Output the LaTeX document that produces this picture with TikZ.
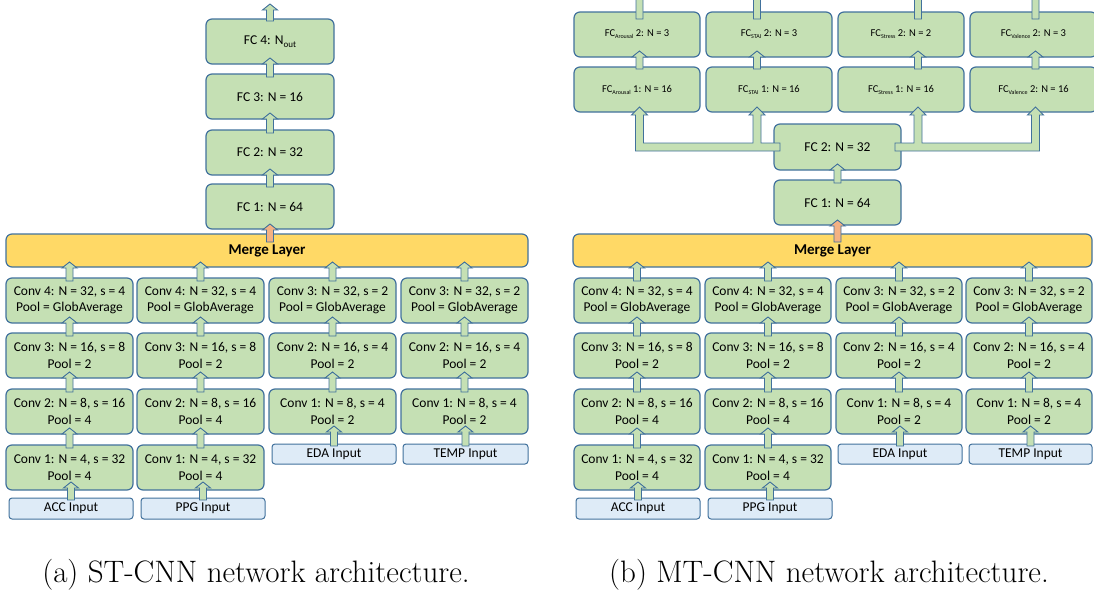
\documentclass[tikz,border=0pt]{standalone}
\usepackage{fontspec}
\newfontfamily\cfont{Carlito}
\usetikzlibrary{calc}
\definecolor{gfill}{HTML}{C5E0B4}
\definecolor{bline}{HTML}{41719C}
\definecolor{mfill}{HTML}{FFD966}
\definecolor{ifill}{HTML}{DEEBF7}
\definecolor{ofill}{HTML}{F4B183}
\newcommand\bx[7]{%
 \pgfmathsetmacro\bxcx{(#3+#5)/2}%
 \pgfmathsetmacro\bxcy{(#4+#6)/2}%
 \pgfmathsetmacro\bxw{#5-#3}%
 \pgfmathsetmacro\bxh{#6-#4}%
 \node[#1, minimum width=\bxw pt, minimum height=\bxh pt] (#2) at (\bxcx,\bxcy) {#7};}
\def\ahs{3.5pt}\def\ahh{7.5pt}\def\ahl{6pt}
\newcommand\uarr[3][arr]{\path[#1] let \p1=#2, \p2=#3 in (\x1-\ahs,\y1) -- (\x1-\ahs,\y2-\ahl) -- (\x1-\ahh,\y2-\ahl) -- (\x1,\y2) -- (\x1+\ahh,\y2-\ahl) -- (\x1+\ahs,\y2-\ahl) -- (\x1+\ahs,\y1) -- cycle;}
\newcommand\up[4]{\uarr{($(#1.north)+(0,#3)$)}{($(#2.south)+(0,-#4)$)}}
\newcommand\fsub[1]{\raisebox{-2pt}{\fontsize{6}{6}\selectfont #1}}
\begin{document}
\begin{tikzpicture}[x=1pt,y=-1pt,
 layer/.style={draw=bline, fill=gfill, line width=1.2pt, rounded corners=6pt, inner sep=0pt, outer sep=0pt, text=black, font=\cfont\fontsize{13.5}{16.5}\selectfont, align=center},
 small/.style={layer, font=\cfont\fontsize{10.5}{12}\selectfont},
 merge/.style={layer, fill=mfill, font=\cfont\bfseries\fontsize{15}{18}\selectfont},
 inp/.style={layer, fill=ifill, rounded corners=3pt, line width=1pt},
 arr/.style={draw=bline, fill=gfill, line width=0.9pt, line join=miter},
 oarr/.style={arr, fill=ofill},
 captxt/.style={font=\fontsize{31}{36}\selectfont, anchor=base, inner sep=0pt}]
\useasboundingbox (0,0) rectangle (1094,597);
\clip (0,0) rectangle (1094,597);
% ================= (a) ST-CNN =================
\bx{layer}{a4}{206}{19}{334}{64}{FC 4: N\raisebox{-2.5pt}{\fontsize{9}{9}\selectfont out}}
\bx{layer}{a3}{206}{74}{334}{119}{FC 3: N = 16}
\bx{layer}{a2}{206}{130}{334}{175}{FC 2: N = 32}
\bx{layer}{a1}{206}{184}{334}{229}{FC 1: N = 64}
\bx{merge}{am}{6}{234}{528}{267}{Merge Layer}
% ACC
\bx{layer}{ac4}{6}{278}{133}{323}{Conv 4: N = 32, s = 4\\Pool = GlobAverage}
\bx{layer}{ac3}{6}{333}{133}{378}{Conv 3: N = 16, s = 8\\Pool = 2}
\bx{layer}{ac2}{6}{389}{133}{434}{Conv 2: N = 8, s = 16\\Pool = 4}
\bx{layer}{ac1}{6}{445}{133}{490}{Conv 1: N = 4, s = 32\\Pool = 4}
\bx{inp}{ain}{9}{498}{133}{519}{ACC Input}
% PPG
\bx{layer}{ap4}{137}{278}{264}{323}{Conv 4: N = 32, s = 4\\Pool = GlobAverage}
\bx{layer}{ap3}{137}{333}{264}{378}{Conv 3: N = 16, s = 8\\Pool = 2}
\bx{layer}{ap2}{137}{389}{264}{434}{Conv 2: N = 8, s = 16\\Pool = 4}
\bx{layer}{ap1}{137}{445}{264}{490}{Conv 1: N = 4, s = 32\\Pool = 4}
\bx{inp}{apin}{141}{498}{265}{519}{PPG Input}
% EDA
\bx{layer}{ae3}{269}{278}{396}{323}{Conv 3: N = 32, s = 2\\Pool = GlobAverage}
\bx{layer}{ae2}{269}{333}{396}{378}{Conv 2: N = 16, s = 4\\Pool = 2}
\bx{layer}{ae1}{269}{389}{396}{434}{Conv 1: N = 8, s = 4\\Pool = 2}
\bx{inp}{aein}{272}{444}{396}{464}{EDA Input}
% TEMP
\bx{layer}{at3}{401}{278}{528}{323}{Conv 3: N = 32, s = 2\\Pool = GlobAverage}
\bx{layer}{at2}{401}{333}{528}{378}{Conv 2: N = 16, s = 4\\Pool = 2}
\bx{layer}{at1}{401}{389}{528}{434}{Conv 1: N = 8, s = 4\\Pool = 2}
\bx{inp}{atin}{403}{444}{528}{464}{TEMP Input}
% arrows (a)
\coordinate (atop) at ($(a4.north)+(0,-15)$);
\uarr{($(a4.north)+(0,2)$)}{(atop)}
\up{a3}{a4}{3}{6}
\up{a2}{a3}{3}{6}
\up{a1}{a2}{3}{6}
\uarr[oarr]{($(am.north -| a1.south)+(0,8)$)}{($(a1.south)+(0,-5)$)}
\up{ain}{ac1}{2}{8}\up{ac1}{ac2}{3}{6}\up{ac2}{ac3}{3}{6}\up{ac3}{ac4}{3}{6}\up{ac4}{am}{3}{5}
\up{apin}{ap1}{2}{8}\up{ap1}{ap2}{3}{6}\up{ap2}{ap3}{3}{6}\up{ap3}{ap4}{3}{6}\up{ap4}{am}{3}{5}
\up{aein}{ae1}{2}{8}\up{ae1}{ae2}{3}{6}\up{ae2}{ae3}{3}{6}\up{ae3}{am}{3}{5}
\up{atin}{at1}{2}{8}\up{at1}{at2}{3}{6}\up{at2}{at3}{3}{6}\up{at3}{am}{3}{5}
% ================= (b) MT-CNN =================
\bx{small}{g1}{574}{12}{700}{57}{FC\fsub{Arousal} 2: N = 3}
\bx{small}{g2}{706}{12}{832}{57}{FC\fsub{STAI} 2: N = 3}
\bx{small}{g3}{838}{12}{964}{57}{FC\fsub{Stress} 2: N = 2}
\bx{small}{g4}{970}{12}{1097}{57}{FC\fsub{Valence} 2: N = 3}
\bx{small}{h1}{574}{67}{700}{112}{FC\fsub{Arousal} 1: N = 16}
\bx{small}{h2}{706}{67}{832}{112}{FC\fsub{STAI} 1: N = 16}
\bx{small}{h3}{838}{67}{964}{112}{FC\fsub{Stress} 1: N = 16}
\bx{small}{h4}{970}{67}{1097}{112}{FC\fsub{Valence} 2: N = 16}
\bx{layer}{b2}{774}{124}{901}{170}{FC 2: N = 32}
\bx{layer}{b1}{774}{180}{901}{225}{FC 1: N = 64}
\bx{merge}{bm}{573}{234}{1092}{267}{Merge Layer}
% ACC
\bx{layer}{bc4}{574}{278}{700}{323}{Conv 4: N = 32, s = 4\\Pool = GlobAverage}
\bx{layer}{bc3}{574}{333}{700}{378}{Conv 3: N = 16, s = 8\\Pool = 2}
\bx{layer}{bc2}{574}{389}{700}{434}{Conv 2: N = 8, s = 16\\Pool = 4}
\bx{layer}{bc1}{574}{445}{700}{490}{Conv 1: N = 4, s = 32\\Pool = 4}
\bx{inp}{bin}{576}{498}{700}{519}{ACC Input}
% PPG
\bx{layer}{bp4}{705}{278}{831}{323}{Conv 4: N = 32, s = 4\\Pool = GlobAverage}
\bx{layer}{bp3}{705}{333}{831}{378}{Conv 3: N = 16, s = 8\\Pool = 2}
\bx{layer}{bp2}{705}{389}{831}{434}{Conv 2: N = 8, s = 16\\Pool = 4}
\bx{layer}{bp1}{705}{445}{831}{490}{Conv 1: N = 4, s = 32\\Pool = 4}
\bx{inp}{bpin}{708}{498}{832}{519}{PPG Input}
% EDA
\bx{layer}{be3}{836}{278}{962}{323}{Conv 3: N = 32, s = 2\\Pool = GlobAverage}
\bx{layer}{be2}{836}{333}{962}{378}{Conv 2: N = 16, s = 4\\Pool = 2}
\bx{layer}{be1}{836}{389}{962}{434}{Conv 1: N = 8, s = 4\\Pool = 2}
\bx{inp}{bein}{838}{444}{962}{464}{EDA Input}
% TEMP
\bx{layer}{bt3}{966}{278}{1092}{323}{Conv 3: N = 32, s = 2\\Pool = GlobAverage}
\bx{layer}{bt2}{966}{333}{1092}{378}{Conv 2: N = 16, s = 4\\Pool = 2}
\bx{layer}{bt1}{966}{389}{1092}{434}{Conv 1: N = 8, s = 4\\Pool = 2}
\bx{inp}{btin}{969}{444}{1092}{464}{TEMP Input}
% arrows (b)
\up{bin}{bc1}{2}{8}\up{bc1}{bc2}{3}{6}\up{bc2}{bc3}{3}{6}\up{bc3}{bc4}{3}{6}\up{bc4}{bm}{3}{5}
\up{bpin}{bp1}{2}{8}\up{bp1}{bp2}{3}{6}\up{bp2}{bp3}{3}{6}\up{bp3}{bp4}{3}{6}\up{bp4}{bm}{3}{5}
\up{bein}{be1}{2}{8}\up{be1}{be2}{3}{6}\up{be2}{be3}{3}{6}\up{be3}{bm}{3}{5}
\up{btin}{bt1}{2}{8}\up{bt1}{bt2}{3}{6}\up{bt2}{bt3}{3}{6}\up{bt3}{bm}{3}{5}
\uarr[oarr]{($(bm.north -| b1.south)+(0,8)$)}{($(b1.south)+(0,-5)$)}
\up{b1}{b2}{3}{6}
% branch positions
\coordinate (x1) at ($(b2.center)+(-198,0)$);
\coordinate (x2) at ($(b2.center)+(-80.5,0)$);
\coordinate (x3) at ($(b2.center)+(80.5,0)$);
\coordinate (x4) at ($(b2.center)+(198,0)$);
% fork arrows FC 2 -> task heads
\path[arr] let \p0=(b2.west), \p1=(x1), \p2=(x2), \p3=(h1.south) in
 (\x0+6pt,\y0-4pt) -- (\x1-4pt,\y0-4pt) -- (\x1-4pt,\y3-3pt) -- (\x1-8pt,\y3-3pt) -- (\x1,\y3+5pt) -- (\x1+8pt,\y3-3pt) -- (\x1+4pt,\y3-3pt) -- (\x1+4pt,\y0+4pt)
 -- (\x2-4pt,\y0+4pt) -- (\x2-4pt,\y3-3pt) -- (\x2-8pt,\y3-3pt) -- (\x2,\y3+5pt) -- (\x2+8pt,\y3-3pt) -- (\x2+4pt,\y3-3pt) -- (\x2+4pt,\y0+4pt) -- (\x0+6pt,\y0+4pt) -- cycle;
\path[arr] let \p0=(b2.east), \p1=(x4), \p2=(x3), \p3=(h4.south) in
 (\x0-6pt,\y0-4pt) -- (\x1+4pt,\y0-4pt) -- (\x1+4pt,\y3-3pt) -- (\x1+8pt,\y3-3pt) -- (\x1,\y3+5pt) -- (\x1-8pt,\y3-3pt) -- (\x1-4pt,\y3-3pt) -- (\x1-4pt,\y0+4pt)
 -- (\x2+4pt,\y0+4pt) -- (\x2+4pt,\y3-3pt) -- (\x2+8pt,\y3-3pt) -- (\x2,\y3+5pt) -- (\x2-8pt,\y3-3pt) -- (\x2-4pt,\y3-3pt) -- (\x2-4pt,\y0+4pt) -- (\x0-6pt,\y0+4pt) -- cycle;
% task head arrows
\uarr{($(h1.north -| x1)+(0,2)$)}{($(g1.south)+(0,-6)$)}
\uarr{($(h2.north -| x2)+(0,2)$)}{($(g2.south)+(0,-6)$)}
\uarr{($(h3.north -| x3)+(0,2)$)}{($(g3.south)+(0,-6)$)}
\uarr{($(h4.north -| x4)+(0,2)$)}{($(g4.south)+(0,-6)$)}
\coordinate (o1) at ($(g1.north -| x1)+(0,-30)$);
\coordinate (o2) at ($(g2.north -| x2)+(0,-30)$);
\coordinate (o3) at ($(g3.north -| x3)+(0,-30)$);
\coordinate (o4) at ($(g4.north -| x4)+(0,-30)$);
\uarr{($(g1.north -| x1)+(0,7)$)}{(o1)}
\uarr{($(g2.north -| x2)+(0,7)$)}{(o2)}
\uarr{($(g3.north -| x3)+(0,7)$)}{(o3)}
\uarr{($(g4.north -| x4)+(0,7)$)}{(o4)}
% captions
\node[captxt] (capa) at (256,582) {(a) ST-CNN network architecture.};
\node[captxt] (capb) at (829,582) {(b) MT-CNN network architecture.};
\end{tikzpicture}
\end{document}
